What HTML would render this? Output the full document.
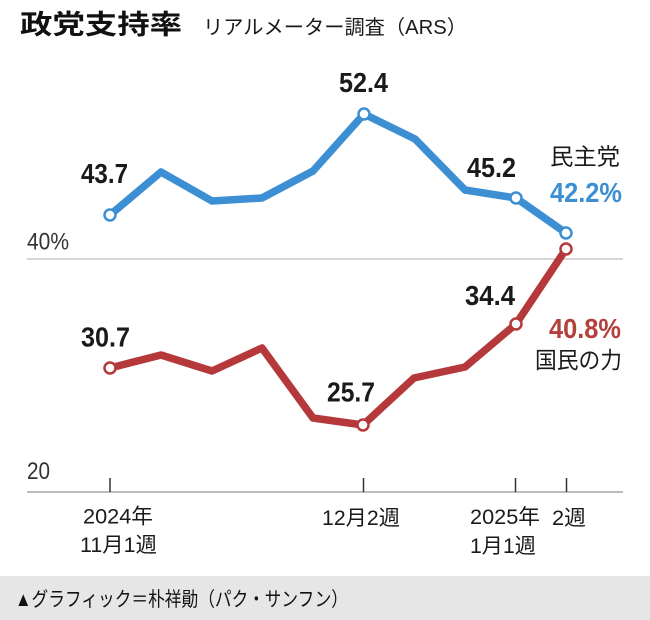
<!DOCTYPE html>
<html>
<head>
<meta charset="utf-8">
<style>
  html,body{margin:0;padding:0;background:#fff;}
  svg{display:block;}
  .num{font-family:"Liberation Sans","Noto Sans CJK JP",sans-serif;font-weight:bold;font-size:28px;fill:#1a1a1a;}
  .ax{font-family:"Liberation Sans","Noto Sans CJK JP",sans-serif;font-size:24px;fill:#333;}
  .tk{font-family:"Liberation Sans","Noto Sans CJK JP",sans-serif;font-size:21px;fill:#1a1a1a;}
  .jp{font-family:"Liberation Sans","Noto Sans CJK JP",sans-serif;font-size:23px;fill:#1a1a1a;}
</style>
</head>
<body>
<svg width="650" height="620" viewBox="0 0 650 620" xmlns="http://www.w3.org/2000/svg">
  <rect x="0" y="0" width="650" height="620" fill="#fff"/>

  <!-- Title -->
  <text x="20" y="34" font-family="'Liberation Sans','Noto Sans CJK JP',sans-serif" font-weight="bold" font-size="27" fill="#111" textLength="162" lengthAdjust="spacingAndGlyphs">政党支持率</text>
  <text x="203" y="34" font-family="'Liberation Sans','Noto Sans CJK JP',sans-serif" font-size="20" fill="#1a1a1a" textLength="264" lengthAdjust="spacingAndGlyphs">リアルメーター調査（ARS）</text>

  <!-- gridline 40% -->
  <line x1="27" y1="259" x2="623" y2="259" stroke="#c8c8c8" stroke-width="1.5"/>
  <text class="ax" x="27" y="249.5" textLength="42" lengthAdjust="spacingAndGlyphs">40%</text>

  <!-- axis -->
  <line x1="27" y1="492" x2="623" y2="492" stroke="#bdbdbd" stroke-width="2"/>
  <text class="ax" x="27" y="479" textLength="23" lengthAdjust="spacingAndGlyphs">20</text>
  <g stroke="#333" stroke-width="1.5">
    <line x1="110" y1="478" x2="110" y2="492"/>
    <line x1="363.5" y1="478" x2="363.5" y2="492"/>
    <line x1="515.5" y1="478" x2="515.5" y2="492"/>
    <line x1="566.5" y1="478" x2="566.5" y2="492"/>
  </g>

  <!-- tick labels -->
  <text class="tk" x="83" y="523.5" textLength="70" lengthAdjust="spacingAndGlyphs">2024年</text>
  <text class="tk" x="80" y="552" textLength="77" lengthAdjust="spacingAndGlyphs">11月1週</text>
  <text class="tk" x="322" y="525" textLength="78" lengthAdjust="spacingAndGlyphs">12月2週</text>
  <text class="tk" x="470" y="524" textLength="70" lengthAdjust="spacingAndGlyphs">2025年</text>
  <text class="tk" x="470" y="553" textLength="66" lengthAdjust="spacingAndGlyphs">1月1週</text>
  <text class="tk" x="552" y="525" textLength="34" lengthAdjust="spacingAndGlyphs">2週</text>

  <!-- Blue series -->
  <polyline fill="none" stroke="#3d8fd3" stroke-width="7.5" stroke-linejoin="round" stroke-linecap="round"
    points="110,215 161,172 212,201 262,198 313,171 364,114 415,139 465,190 516,198 566,233"/>
  <!-- Red series -->
  <polyline fill="none" stroke="#b5393b" stroke-width="7.5" stroke-linejoin="round" stroke-linecap="round"
    points="110,368 161,355 212,371 262,348 313,418 363,425 414,378 465,367 516,324 566,249"/>

  <!-- dots -->
  <g fill="#fff" stroke="#3d8fd3" stroke-width="2.5">
    <circle cx="110" cy="215" r="5.5"/>
    <circle cx="364" cy="114" r="5.5"/>
    <circle cx="516" cy="198" r="5.5"/>
    <circle cx="566" cy="233" r="5.5"/>
  </g>
  <g fill="#fff" stroke="#b5393b" stroke-width="2.5">
    <circle cx="110" cy="368" r="5.5"/>
    <circle cx="363" cy="425" r="5.5"/>
    <circle cx="516" cy="324" r="5.5"/>
    <circle cx="566" cy="249" r="5.5"/>
  </g>

  <!-- value labels -->
  <text class="num" x="81" y="183" textLength="47" lengthAdjust="spacingAndGlyphs">43.7</text>
  <text class="num" x="339" y="92" textLength="49" lengthAdjust="spacingAndGlyphs">52.4</text>
  <text class="num" x="467" y="177" textLength="49" lengthAdjust="spacingAndGlyphs">45.2</text>
  <text class="num" x="81" y="346.5" textLength="49" lengthAdjust="spacingAndGlyphs">30.7</text>
  <text class="num" x="327" y="401.5" textLength="48" lengthAdjust="spacingAndGlyphs">25.7</text>
  <text class="num" x="465" y="305" textLength="50" lengthAdjust="spacingAndGlyphs">34.4</text>

  <!-- end labels -->
  <text class="jp" x="550" y="164.5" textLength="70" lengthAdjust="spacingAndGlyphs">民主党</text>
  <text class="num" x="550" y="202" fill="#3d8fd3" style="fill:#3d8fd3" textLength="72" lengthAdjust="spacingAndGlyphs">42.2%</text>
  <text class="num" x="549" y="338" fill="#b4403e" style="fill:#b4403e" textLength="72" lengthAdjust="spacingAndGlyphs">40.8%</text>
  <text class="jp" x="535" y="368" textLength="87" lengthAdjust="spacingAndGlyphs">国民の力</text>

  <!-- footer -->
  <rect x="0" y="576" width="650" height="44" fill="#e6e6e6"/>
  <text x="15" y="606" font-family="'Liberation Sans','Noto Sans CJK JP',sans-serif" font-size="20" fill="#111" textLength="333" lengthAdjust="spacingAndGlyphs">▲グラフィック＝朴祥勛（パク・サンフン）</text>
</svg>
</body>
</html>
